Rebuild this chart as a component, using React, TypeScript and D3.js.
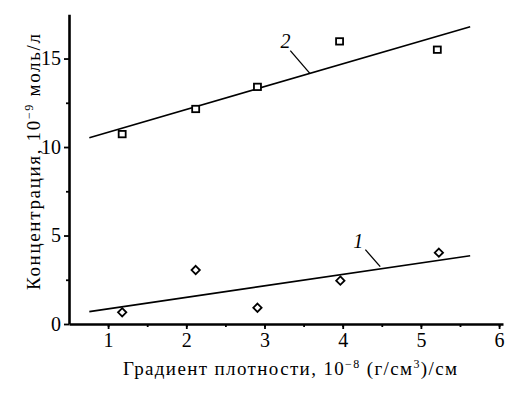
// @ts-nocheck
import React, { useEffect, useRef } from "react";
import * as d3 from "d3";

// gradient values (x) for both series
const gradX1 = [1.18, 2.12, 2.91, 3.97, 5.23];
const conc1 = [0.66, 3.05, 0.92, 2.45, 4.03];
const gradX2 = [1.18, 2.12, 2.91, 3.96, 5.21];
const conc2 = [10.73, 12.15, 13.4, 15.97, 15.5];

// fitted lines: [x0, y0, x1, y1]
const fit1 = [0.76, 0.7, 5.63, 3.86];
const fit2 = [0.76, 10.53, 5.63, 16.8];

const xTicks = [1, 2, 3, 4, 5, 6];
const yTicks = [0, 5, 10, 15];

// curve labels: text, label pos, leader start, leader end (data units)
const labels = [
  { t: "1", x: 4.2, y: 4.3, lx0: 4.29, ly0: 4.2, lx1: 4.48, ly1: 3.24 },
  { t: "2", x: 3.27, y: 15.6, lx0: 3.33, ly0: 15.45, lx1: 3.58, ly1: 14.16 },
];

function Chart() {
  const ref = useRef(null);

  useEffect(() => {
    document.body.style.margin = "0";
    const svg = d3.select(ref.current);
    svg.selectAll("*").remove();

    const x = d3.scaleLinear().domain([0.5, 6.05]).range([69, 503]);
    const y = d3.scaleLinear().domain([0, 17.5]).range([324, 14.3]);
    const font = "'Liberation Serif', 'Times New Roman', serif";

    // minor ticks
    const gx = svg.append("g").attr("transform", "translate(0,324)");
    gx.call(d3.axisBottom(x).tickValues(d3.range(1, 6.01, 0.5)).tickSize(3).tickFormat(""));
    gx.call((g) => g.select(".domain").remove());
    gx.selectAll(".tick line").attr("stroke-width", 1.8);
    const gx2 = svg.append("g").attr("transform", "translate(0,324)");
    gx2.call(d3.axisBottom(x).tickValues(xTicks).tickSize(5).tickSizeOuter(0).tickPadding(4).tickFormat(d3.format("d")));
    gx2.select(".domain").attr("stroke-width", 2.6);
    gx2.selectAll(".tick line").attr("stroke-width", 1.8);
    gx2.selectAll(".tick text").attr("font-family", font).attr("font-size", 20).attr("fill", "#000");

    const gy = svg.append("g").attr("transform", "translate(69,0)");
    gy.call(d3.axisLeft(y).tickValues(d3.range(2.5, 17.5, 5)).tickSize(3).tickFormat(""));
    gy.call((g) => g.select(".domain").remove());
    gy.selectAll(".tick line").attr("stroke-width", 1.8);
    const gy2 = svg.append("g").attr("transform", "translate(69,0)");
    gy2.call(d3.axisLeft(y).tickValues(yTicks).tickSize(5).tickSizeOuter(0).tickPadding(3).tickFormat(d3.format("d")));
    gy2.select(".domain").attr("stroke-width", 2.6);
    gy2.selectAll(".tick line").attr("stroke-width", 1.8);
    gy2.selectAll(".tick text").attr("font-family", font).attr("font-size", 20).attr("fill", "#000");

    // fit lines
    const line = d3.line();
    [fit1, fit2].forEach((f) => {
      svg
        .append("path")
        .attr("d", line([[x(f[0]), y(f[1])], [x(f[2]), y(f[3])]]))
        .attr("stroke", "#000")
        .attr("stroke-width", 1.6)
        .attr("fill", "none");
    });

    // squares
    svg
      .selectAll("rect.pt")
      .data(d3.zip(gradX2, conc2))
      .enter()
      .append("rect")
      .attr("x", (d) => x(d[0]) - 3.5)
      .attr("y", (d) => y(d[1]) - 3.2)
      .attr("width", 7)
      .attr("height", 6.4)
      .attr("fill", "#fff")
      .attr("stroke", "#000")
      .attr("stroke-width", 1.8);

    // diamonds
    svg
      .selectAll("path.dm")
      .data(d3.zip(gradX1, conc1))
      .enter()
      .append("path")
      .attr("d", d3.symbol(d3.symbolDiamond2, 44))
      .attr("transform", (d) => `translate(${x(d[0])},${y(d[1])})`)
      .attr("fill", "#fff")
      .attr("stroke", "#000")
      .attr("stroke-width", 1.8);

    // curve labels
    labels.forEach((l) => {
      svg
        .append("text")
        .attr("x", x(l.x))
        .attr("y", y(l.y))
        .attr("text-anchor", "middle")
        .attr("font-family", font)
        .attr("font-style", "italic")
        .attr("font-size", 20)
        .text(l.t);
      svg
        .append("line")
        .attr("x1", x(l.lx0))
        .attr("y1", y(l.ly0))
        .attr("x2", x(l.lx1))
        .attr("y2", y(l.ly1))
        .attr("stroke", "#000")
        .attr("stroke-width", 1.3);
    });

    // x title
    const xt = svg
      .append("text")
      .attr("x", 123)
      .attr("y", 375)
      .attr("textLength", 334)
      .attr("lengthAdjust", "spacing")
      .attr("font-family", font)
      .attr("font-size", 19);
    xt.append("tspan").text("Градиент плотности, 10");
    xt.append("tspan").attr("dy", -7).attr("font-size", 12).text("−8");
    xt.append("tspan").attr("dy", 7).text(" (г/см");
    xt.append("tspan").attr("dy", -7).attr("font-size", 12).text("3");
    xt.append("tspan").attr("dy", 7).text(")/см");

    // y title
    const yt = svg
      .append("text")
      .attr("transform", "translate(40,290) rotate(-90)")
      .attr("textLength", 256)
      .attr("lengthAdjust", "spacing")
      .attr("font-family", font)
      .attr("font-size", 19);
    yt.append("tspan").text("Концентрация, 10");
    yt.append("tspan").attr("dy", -7).attr("font-size", 12).text("−9");
    yt.append("tspan").attr("dy", 7).text(" моль/л");
  }, []);

  return <svg ref={ref} width={531} height={393} style={{ display: "block", background: "#fff" }} />;
}

export default function App() {
  return <Chart />;
}
